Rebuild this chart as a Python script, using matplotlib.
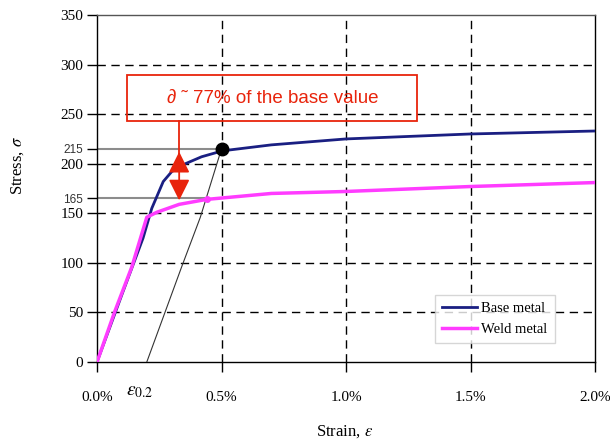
import numpy as np
import matplotlib.pyplot as plt
from matplotlib.patches import Rectangle

plt.rcParams['mathtext.fontset'] = 'stix'

# strain in %, stress in MPa
base_strain = [0.0, 0.10, 0.185, 0.22, 0.266, 0.30, 0.355, 0.42, 0.504, 0.70, 1.0, 1.5, 2.0]
base_stress = [0, 68, 125, 155, 182, 192, 200, 207, 213, 219, 225, 230, 233]

weld_strain = [0.0, 0.07, 0.14, 0.20, 0.24, 0.33, 0.44, 0.70, 1.0, 1.5, 2.0]
weld_stress = [0, 50, 96, 146, 151, 159, 164, 170, 172, 177, 181]

offset_strain = [0.20, 0.34, 0.415, 0.50]
offset_stress = [0, 96, 146, 215]

yield_base = 215
yield_weld = 165
yticks = [0, 50, 100, 150, 200, 250, 300, 350]
xticks = [0.0, 0.5, 1.0, 1.5, 2.0]

serif = 'Liberation Serif'

fig = plt.figure(figsize=(6.1, 4.41), dpi=100)
ax = fig.add_axes([97/610, 1-362/441, (595-97)/610, (362-15)/441])

ax.set_xlim(0, 2.0)
ax.set_ylim(0, 350)

# dashed grid
for y in yticks[1:-1]:
    ax.axhline(y, color='black', lw=1, ls=(0, (6, 4)), zorder=1)
for x in xticks[1:-1]:
    ax.axvline(x, color='black', lw=1, ls=(0, (6, 4)), zorder=1)

# yield guide lines
ax.plot([0, 0.50], [yield_base, yield_base], color='#8c8c8c', lw=1.5, zorder=2)
ax.plot([0, 0.43], [yield_weld, yield_weld], color='#8c8c8c', lw=1.5, zorder=2)

ax.plot(offset_strain, offset_stress, color='#333333', lw=0.8, zorder=3)
ax.plot(base_strain, base_stress, color='#1a1f82', lw=2, zorder=4, label='Base metal')
ax.plot(weld_strain, weld_stress, color='#ff3cff', lw=2.5, zorder=5, label='Weld metal')
ax.plot([0.50], [yield_base], 'o', color='black', ms=9, zorder=6)
ax.plot([0.44], [164], 'o', color='#ff3cff', ms=4, zorder=6)

# annotation
red = '#e8240c'
ax.add_patch(Rectangle((0.121, 243), 1.286-0.121, 289.6-243, fill=False,
                       edgecolor=red, lw=1.3, zorder=7))
ax.text(0.704, 266, '\u2202 \u02dc 77% of the base value', color=red,
        fontsize=13.5, family='Liberation Sans', ha='center', va='center', zorder=7)
ax.plot([0.33, 0.33], [243, 200], color=red, lw=1.3, zorder=7)
ax.annotate('', xy=(0.33, 212), xytext=(0.33, 163),
            arrowprops=dict(arrowstyle='<|-|>', color=red, lw=1.3,
                            mutation_scale=32, shrinkA=0, shrinkB=0), zorder=7)

ax.set_yticks(yticks + [yield_weld, yield_base])
ax.set_yticklabels([str(v) for v in yticks] + [str(yield_weld), str(yield_base)])
for lab in ax.get_yticklabels():
    if lab.get_text() in ('165', '215'):
        lab.set_fontsize(8.5)
        lab.set_family('Liberation Sans')
        lab.set_color('#333333')
    else:
        lab.set_fontsize(11)
        lab.set_family(serif)
ax.set_xticks(xticks)
ax.set_xticklabels(['%.1f%%' % v for v in xticks], family=serif, fontsize=11)
ax.tick_params(axis='y', length=7, width=1, pad=3)
ax.tick_params(axis='x', length=7, width=1, pad=14)

for s in ax.spines.values():
    s.set_linewidth(1)
ax.spines['top'].set_color('#555555')

fig.text(345/610, 1-432/441, 'Strain, $\\varepsilon$', family=serif, fontsize=12,
         ha='center', va='center')
fig.text(18/610, 1-166/441, 'Stress, $\\sigma$', family=serif, fontsize=12,
         ha='center', va='center', rotation=90)
fig.text(140/610, 1-392/441, '$\\varepsilon_{0.2}$', family=serif, fontsize=14,
         ha='center', va='center')

leg = ax.legend(loc='lower right', bbox_to_anchor=((555-97)/498, (362-343)/347),
                prop={'family': serif, 'size': 10.5}, fancybox=False,
                edgecolor='#cccccc', handlelength=2.4, borderpad=0.5,
                labelspacing=0.5, handletextpad=0.3, borderaxespad=0)
leg.get_frame().set_linewidth(1)

fig.savefig('out.png', dpi=100)
